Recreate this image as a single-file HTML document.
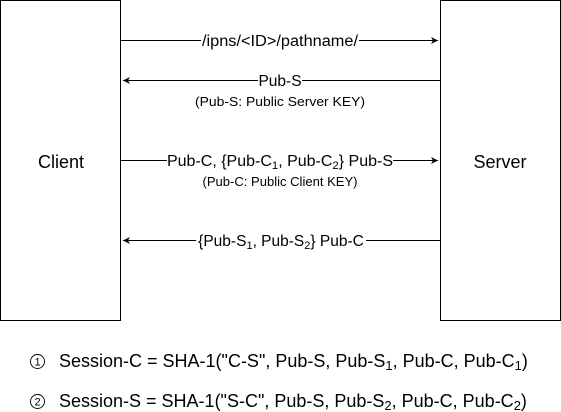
<!DOCTYPE html>
<html><head><meta charset="utf-8"><style>
html,body{margin:0;padding:0;background:#fff;}
svg{display:block;font-family:"Liberation Sans",Arial,sans-serif;}
</style></head><body>
<svg width="561" height="412" viewBox="0 0 561 412" xmlns="http://www.w3.org/2000/svg">
<defs>
<marker id="a" markerWidth="8" markerHeight="8" refX="7" refY="4" orient="auto" markerUnits="userSpaceOnUse">
<path d="M0,0.5 L7,4 L0,7.5 L2,4 Z" fill="#000"/>
</marker>
</defs>
<rect x="0.5" y="0.5" width="120" height="320" fill="#fff" stroke="#000"/>
<rect x="440.5" y="0.5" width="120" height="320" fill="#fff" stroke="#000"/>
<text x="61" y="168" font-size="18" text-anchor="middle">Client</text>
<text x="500" y="168" font-size="18" text-anchor="middle">Server</text>

<line x1="121" y1="40.5" x2="438" y2="40.5" stroke="#000" marker-end="url(#a)"/>
<rect x="201" y="31" width="158" height="18" fill="#fff"/>
<text x="280" y="46" font-size="15.5" text-anchor="middle" textLength="156" lengthAdjust="spacingAndGlyphs">/ipns/&lt;ID&gt;/pathname/</text>

<line x1="440" y1="80.5" x2="123" y2="80.5" stroke="#000" marker-end="url(#a)"/>
<rect x="258" y="71" width="44" height="18" fill="#fff"/>
<text x="280" y="86" font-size="15.5" text-anchor="middle">Pub-S</text>
<text x="280" y="106" font-size="13" text-anchor="middle" textLength="170" lengthAdjust="spacingAndGlyphs">(Pub-S: Public Server KEY)</text>

<line x1="121" y1="160.5" x2="438" y2="160.5" stroke="#000" marker-end="url(#a)"/>
<rect x="167" y="150" width="226" height="20" fill="#fff"/>
<text x="280" y="166" font-size="15.5" text-anchor="middle" textLength="226" lengthAdjust="spacingAndGlyphs">Pub-C, {Pub-C<tspan font-size="11" dy="3">1</tspan><tspan dy="-3">, Pub-C</tspan><tspan font-size="11" dy="3">2</tspan><tspan dy="-3">} Pub-S</tspan></text>
<text x="280" y="186" font-size="13" text-anchor="middle" textLength="155" lengthAdjust="spacingAndGlyphs">(Pub-C: Public Client KEY)</text>

<line x1="440" y1="240.5" x2="123" y2="240.5" stroke="#000" marker-end="url(#a)"/>
<rect x="196" y="230" width="170" height="20" fill="#fff"/>
<text x="281" y="246" font-size="15.5" text-anchor="middle">{Pub-S<tspan font-size="11" dy="3">1</tspan><tspan dy="-3">, Pub-S</tspan><tspan font-size="11" dy="3">2</tspan><tspan dy="-3">} Pub-C</tspan></text>

<circle cx="37.5" cy="361.5" r="7" fill="none" stroke="#000" stroke-width="0.9"/>
<text x="37.5" y="365.5" font-size="11" text-anchor="middle">1</text>
<text x="59" y="367" font-size="18">Session-C = SHA-1("C-S", Pub-S, Pub-S<tspan font-size="13" dy="3">1</tspan><tspan dy="-3">, Pub-C, Pub-C</tspan><tspan font-size="13" dy="3">1</tspan><tspan dy="-3">)</tspan></text>

<circle cx="37.5" cy="401.5" r="7" fill="none" stroke="#000" stroke-width="0.9"/>
<text x="37.5" y="405.5" font-size="11" text-anchor="middle">2</text>
<text x="59" y="407" font-size="18">Session-S = SHA-1("S-C", Pub-S, Pub-S<tspan font-size="13" dy="3">2</tspan><tspan dy="-3">, Pub-C, Pub-C</tspan><tspan font-size="13" dy="3">2</tspan><tspan dy="-3">)</tspan></text>
</svg>
</body></html>
